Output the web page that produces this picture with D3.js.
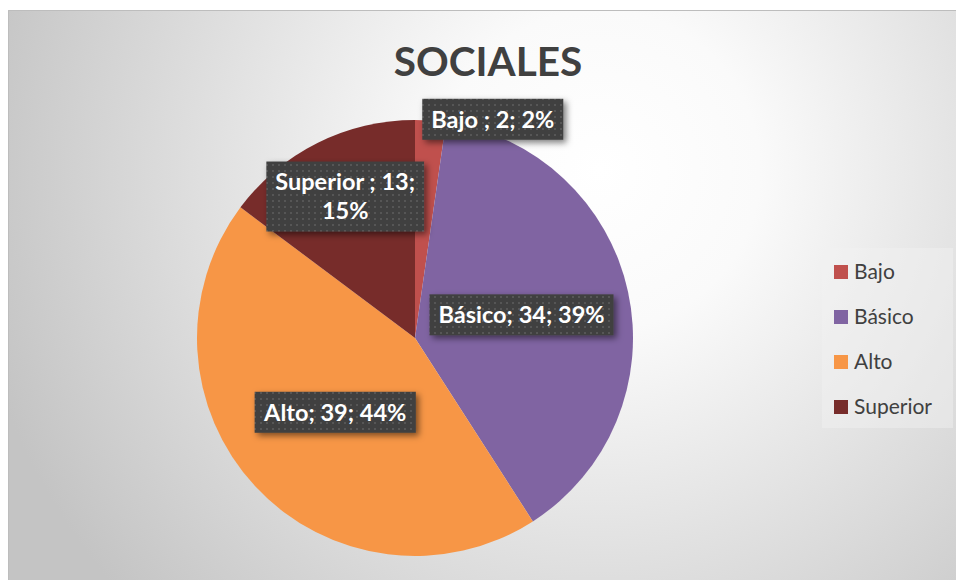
<!DOCTYPE html>
<html><head><meta charset="utf-8">
<script src="https://cdn.jsdelivr.net/npm/d3@7"></script>
<style>html,body{margin:0;padding:0;background:#fff}svg{display:block}</style>
</head><body>
<svg id="chart" width="956" height="580"></svg>
<script>
const title = "SOCIALES";
const categories = ["Bajo", "Básico", "Alto", "Superior"];
const values = [2, 34, 39, 13];
const colors = ["#c0504d", "#8064a2", "#f79646", "#772c2a"];

const W = 956, H = 580;
const svg = d3.select("#chart");
const defs = svg.append("defs");

const rg = defs.append("radialGradient").attr("id","bg")
  .attr("gradientUnits","userSpaceOnUse").attr("cx",600).attr("cy",170).attr("r",640);
rg.append("stop").attr("offset","0").attr("stop-color","#ffffff");
rg.append("stop").attr("offset","0.25").attr("stop-color","#fafafa");
rg.append("stop").attr("offset","1").attr("stop-color","#c4c4c4");

const pat = defs.append("pattern").attr("id","dots").attr("patternUnits","userSpaceOnUse")
  .attr("width",6).attr("height",6);
pat.append("rect").attr("width",6).attr("height",6).attr("fill","#404040");
pat.append("rect").attr("x",2).attr("y",2).attr("width",2).attr("height",2).attr("fill","#565656");

const sh = defs.append("filter").attr("id","shadow").attr("x","-20%").attr("y","-30%").attr("width","150%").attr("height","180%");
sh.append("feDropShadow").attr("dx",3).attr("dy",3).attr("stdDeviation",3)
  .attr("flood-color","#000").attr("flood-opacity",0.5);

// background
svg.append("rect").attr("x",8).attr("y",10).attr("width",W-8).attr("height",H-10).attr("fill","url(#bg)");
svg.append("path").attr("d",`M8.5,${H} V10.5 H${W}`).attr("fill","none").attr("stroke","#bdbdbd").attr("stroke-width",1);

// title
svg.append("text").attr("x",488).attr("y",76).attr("text-anchor","middle")
  .attr("font-family","Lato, 'Open Sans', sans-serif").attr("font-weight","bold")
  .attr("font-size",40.5).attr("fill","#404040").text(title);

// pie
const cx = 415, cy = 338, R = 218;
const total = d3.sum(values);
const data = categories.map((c,i)=>({cat:c, value:values[i], color:colors[i]}));
const pie = d3.pie().value(d=>d.value).sort(null);
const arcs = pie(data);
const arc = d3.arc().innerRadius(0).outerRadius(R);
const labelArc = d3.arc().innerRadius(R*0.5).outerRadius(R*0.5);

const g = svg.append("g").attr("transform",`translate(${cx},${cy})`);
g.selectAll("path.slice").data(arcs).enter().append("path")
  .attr("class","slice").attr("d",arc).attr("fill",d=>d.data.color);

// labels
const fmtPct = v => Math.round(v/total*100) + "%";
const labelSpec = {
  "Bajo":     {dx: 70,  dy: -110, lines: d=>[`Bajo ; ${d.value}; ${fmtPct(d.value)}`]},
  "Básico":   {dx: 0,   dy: 0,    lines: d=>[`Básico; ${d.value}; ${fmtPct(d.value)}`]},
  "Alto":     {dx: 0,   dy: 0,    lines: d=>[`Alto; ${d.value}; ${fmtPct(d.value)}`]},
  "Superior": {dx: -21, dy: -44,  lines: d=>[`Superior ; ${d.value};`, fmtPct(d.value)]}
};
const lineH = 29, padX = 9, fs = 23.5;
arcs.forEach(a=>{
  const spec = labelSpec[a.data.cat];
  const [lx, ly] = labelArc.centroid(a);
  const x = cx + lx + spec.dx, y = cy + ly + spec.dy;
  const lines = spec.lines(a.data);
  const lg = svg.append("g");
  const rect = lg.append("rect").attr("fill","url(#dots)").attr("filter","url(#shadow)");
  const t = lg.append("text").attr("text-anchor","middle")
    .attr("font-family","Lato, 'Open Sans', sans-serif").attr("font-weight","bold")
    .attr("font-size",fs).attr("fill","#ffffff");
  const n = lines.length;
  lines.forEach((s,i)=>{
    t.append("tspan").attr("x",x).attr("y", y + (i-(n-1)/2)*lineH + fs*0.36).text(s);
  });
  const bb = t.node().getBBox();
  const bw = bb.width + 2*padX, bh = n*lineH + 12;
  rect.attr("x", x - bw/2).attr("y", y - bh/2).attr("width", bw).attr("height", bh);
});

// legend
const lgx = 822, lgy = 248;
svg.append("rect").attr("x",lgx).attr("y",lgy).attr("width",131).attr("height",180)
  .attr("fill","#f2f2f2").attr("opacity",0.45);
const leg = svg.append("g");
categories.forEach((c,i)=>{
  const yy = 272 + i*45;
  leg.append("rect").attr("x",834).attr("y",yy-7).attr("width",14).attr("height",14).attr("fill",colors[i]);
  leg.append("text").attr("x",854).attr("y",yy+7)
    .attr("font-family","Lato, 'Open Sans', sans-serif").attr("font-size",21)
    .attr("fill","#404040").text(c);
});
</script>
</body></html>
